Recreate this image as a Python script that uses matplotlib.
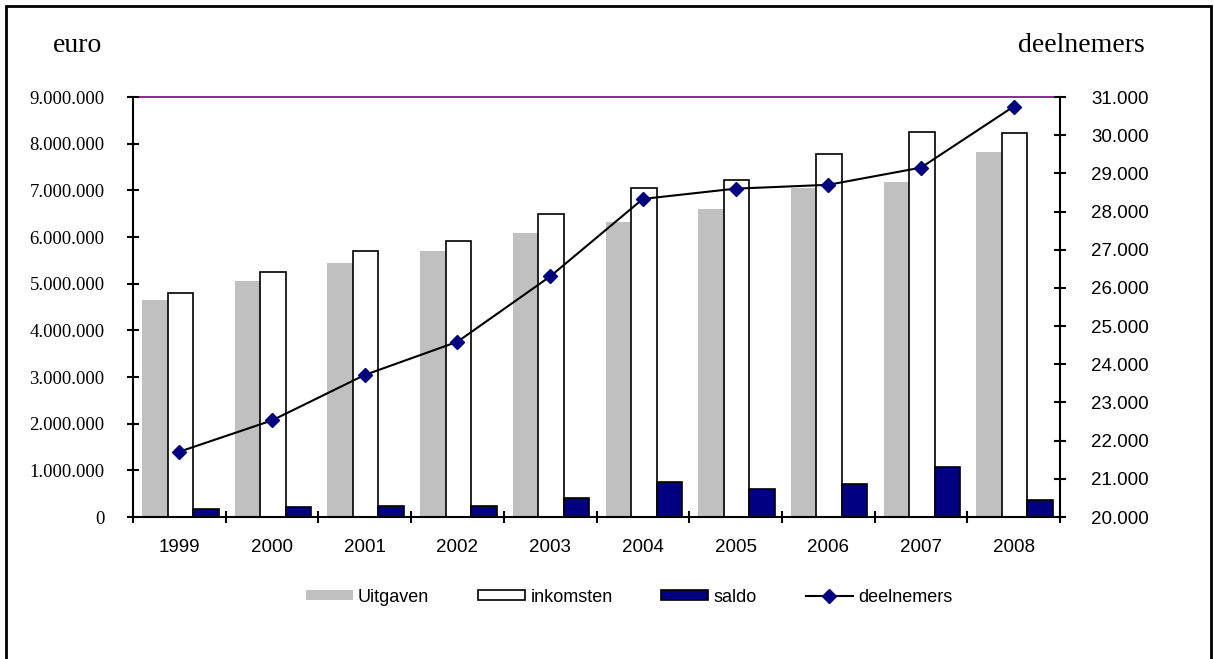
import matplotlib
matplotlib.use("Agg")
import matplotlib.pyplot as plt
from matplotlib.patches import Rectangle, Patch
from matplotlib.lines import Line2D
import numpy as np

years = ["1999", "2000", "2001", "2002", "2003", "2004", "2005", "2006", "2007", "2008"]
uitgaven = [4660000, 5060000, 5450000, 5690000, 6090000, 6330000, 6610000, 7040000, 7170000, 7830000]
inkomsten = [4800000, 5240000, 5710000, 5910000, 6500000, 7060000, 7220000, 7770000, 8250000, 8220000]
saldo = [165000, 210000, 240000, 240000, 400000, 750000, 600000, 715000, 1070000, 360000]
deelnemers = [21710, 22530, 23720, 24590, 26300, 28330, 28600, 28700, 29150, 30750]

left_ticks = list(range(0, 9000001, 1000000))
right_ticks = list(range(20000, 31001, 1000))

def dotfmt(v):
    return f"{int(v):,}".replace(",", ".")

W, H = 1214, 659
fig = plt.figure(figsize=(W / 100, H / 100), dpi=100)
fig.patch.set_facecolor("white")

ax = fig.add_axes([133 / W, 1 - 517 / H, (1060 - 133) / W, (517 - 97) / H])
ax2 = ax.twinx()

x = np.arange(len(years)) + 0.5
bw = 0.275
shift = 0.01
ax.bar(x - bw + shift, uitgaven, width=bw, color="#c0c0c0", edgecolor="none", zorder=2)
ax.bar(x + shift, inkomsten, width=bw, color="white", edgecolor="black", linewidth=1.2, zorder=2)
ax.bar(x + bw + shift, saldo, width=bw, color="#000080", edgecolor="black", linewidth=1.2, zorder=2)

ax2.plot(x, deelnemers, color="black", linewidth=1.5, marker="D", markersize=7,
         markerfacecolor="#000080", markeredgecolor="#000080", zorder=5)

ax.set_xlim(0, len(years))
ax.set_ylim(0, 9000000)
ax2.set_ylim(20000, 31000)

ax.set_yticks(left_ticks)
ax.set_yticklabels([dotfmt(v) for v in left_ticks], fontfamily="Liberation Serif", fontsize=13.5)
ax2.set_yticks(right_ticks)
ax2.set_yticklabels([dotfmt(v) for v in right_ticks], fontfamily="Liberation Sans", fontsize=13.5)

ax.set_xticks(np.arange(0, len(years) + 1), minor=True)
ax.set_xticks(x)
ax.set_xticklabels(years, fontfamily="Liberation Sans", fontsize=13.5)
ax.tick_params(axis="x", which="major", length=0, pad=16)
ax.tick_params(axis="x", which="minor", direction="inout", length=9, width=1.5, color="black")
ax.tick_params(axis="y", direction="inout", length=9, width=1.5, pad=16)
ax2.tick_params(axis="y", direction="inout", length=9, width=1.5, pad=18)

for a in (ax, ax2):
    for s in a.spines.values():
        s.set_visible(False)
ax.set_facecolor("none")

# plot area frame (purple)
ax.add_patch(Rectangle((0, 0), 1, 1, transform=ax.transAxes, fill=False,
                       edgecolor="#800080", linewidth=1.2, zorder=1, clip_on=False))
# axis lines (black)
for side in ("left", "right", "bottom"):
    ax2.spines[side].set_visible(True)
    ax2.spines[side].set_color("black")
    ax2.spines[side].set_linewidth(1.5)

fig.text(53 / W, 1 - 52 / H, "euro", fontfamily="Liberation Serif", fontsize=20,
         ha="left", va="baseline")
fig.text(1145 / W, 1 - 52 / H, "deelnemers", fontfamily="Liberation Serif", fontsize=20,
         ha="right", va="baseline")

handles = [
    Patch(facecolor="#c0c0c0", edgecolor="none"),
    Patch(facecolor="white", edgecolor="black", linewidth=1.2),
    Patch(facecolor="#000080", edgecolor="black", linewidth=1.2),
    Line2D([0], [0], color="black", linewidth=1.5, marker="D", markersize=7,
           markerfacecolor="#000080", markeredgecolor="#000080"),
]
labels = ["Uitgaven", "inkomsten", "saldo", "deelnemers"]
leg = fig.legend(handles, labels, loc="center", bbox_to_anchor=(629 / W, 1 - 597 / H),
                 ncol=4, frameon=False, prop={"family": "Liberation Sans", "size": 13},
                 handlelength=2.6, handleheight=0.45, handletextpad=0.3, columnspacing=2.7)

# outer frame
fig.patches.append(Rectangle((6 / W, -0.05), (1211 - 6) / W, 1.05 - 6 / H,
                             transform=fig.transFigure, fill=False, edgecolor="black",
                             linewidth=2, figure=fig))

fig.savefig("out.png", dpi=100)
